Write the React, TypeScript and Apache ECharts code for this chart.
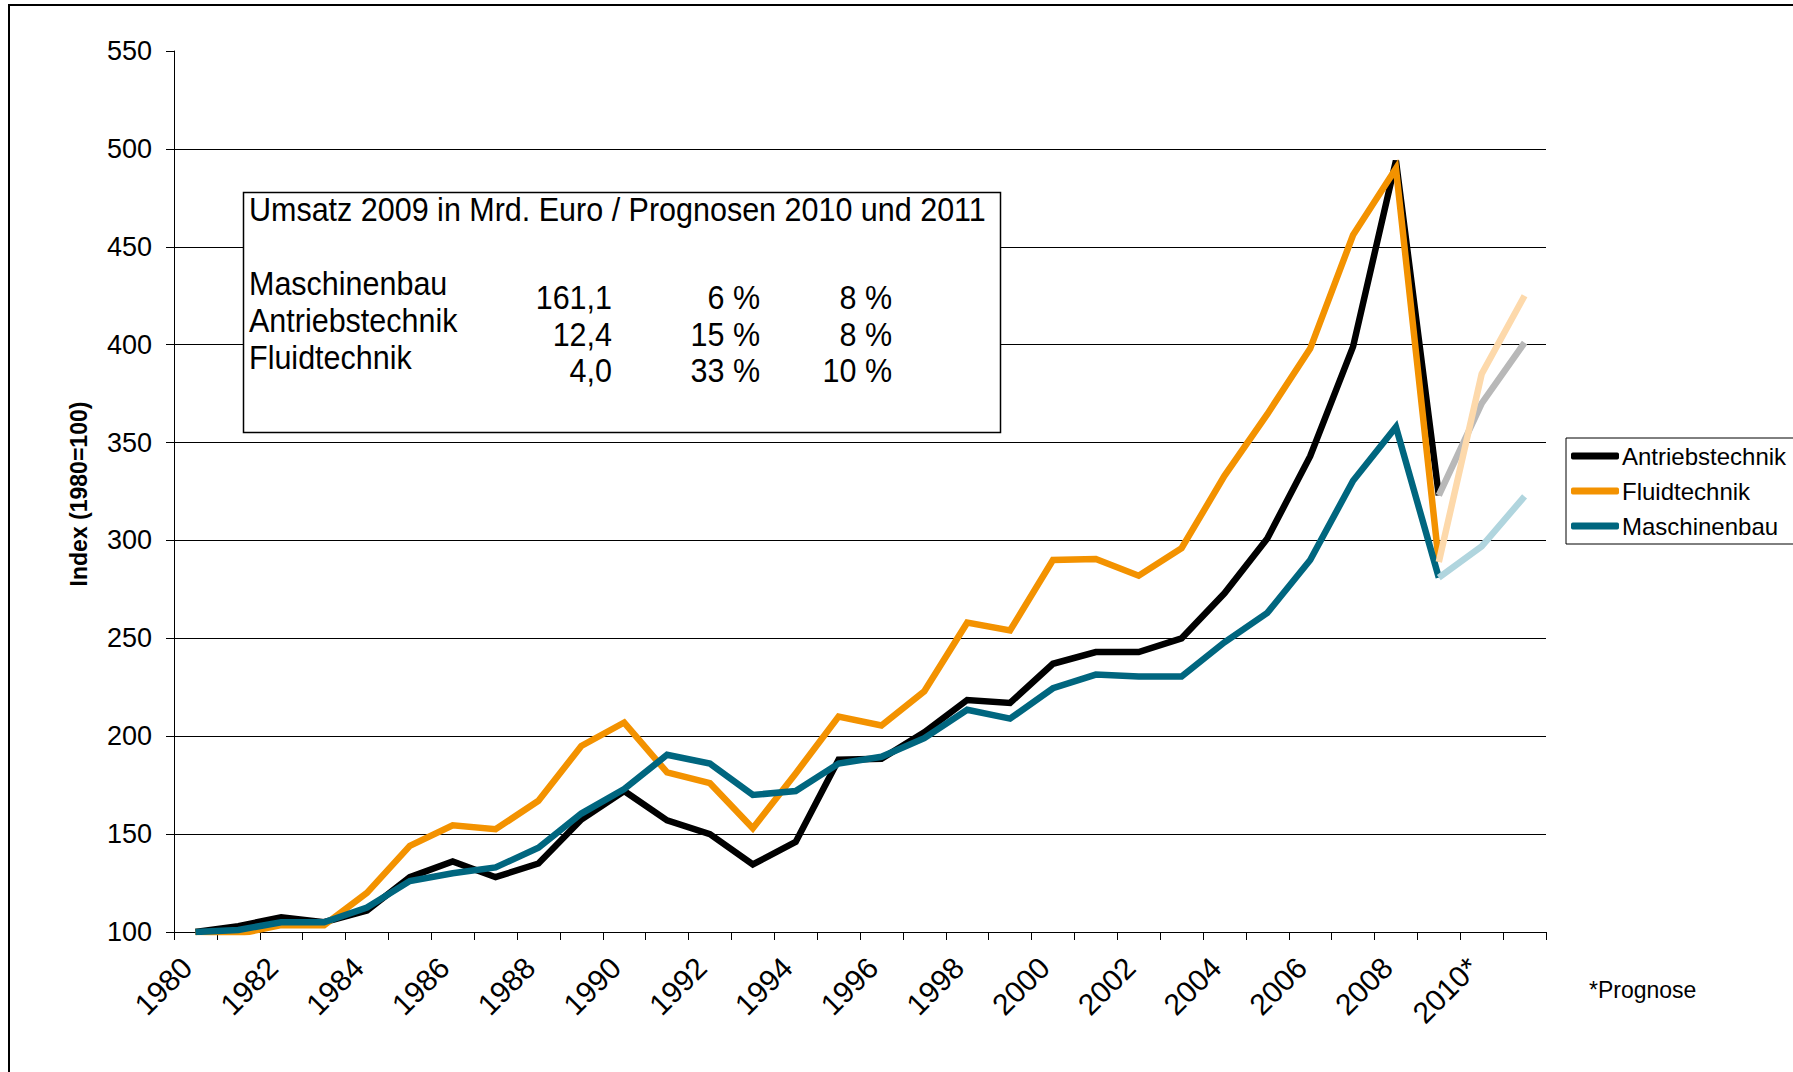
import React, { useEffect, useRef } from "react";
import * as echarts from "echarts";

const FONT = "'Liberation Sans', Arial, Helvetica, sans-serif";

const years = [
  "1980", "1981", "1982", "1983", "1984", "1985", "1986", "1987", "1988", "1989",
  "1990", "1991", "1992", "1993", "1994", "1995", "1996", "1997", "1998", "1999",
  "2000", "2001", "2002", "2003", "2004", "2005", "2006", "2007", "2008", "2009",
  "2010*", "2011",
];

const antriebstechnik = [100, 103, 107.5, 105, 111, 128, 136, 128, 135, 157.5, 172, 157, 150, 134.5, 146, 188, 188.5, 202, 218.5, 217, 237, 243, 243, 250, 273, 301, 343, 399, 494, 323];
const fluidtechnik = [100, 99, 103.5, 103.5, 120, 144, 154.5, 152.5, 167, 195, 207, 181.5, 176, 153, 181, 210, 205.5, 223, 258, 254, 290, 290.5, 282, 296, 333, 364.5, 398, 456, 490, 289];
const maschinenbau = [100, 101, 105, 105, 112.5, 126, 130, 133, 143, 160.5, 173, 190.5, 186, 170, 172, 186, 189.5, 199, 213.5, 209, 224.5, 231.5, 230.5, 230.5, 248, 263, 290, 330.5, 358, 281];

// Prognose 2009 -> 2010 -> 2011
const antriebPrognose = [323, 370, 401];
const fluidPrognose = [289, 385, 425];
const maschPrognose = [281, 297, 322.5];

const yTicks = [100, 150, 200, 250, 300, 350, 400, 450, 500, 550];

const boxTitle = "Umsatz 2009 in Mrd. Euro / Prognosen 2010 und 2011";
const boxRows = ["Maschinenbau", "Antriebstechnik", "Fluidtechnik"];
const umsatz2009 = ["161,1", "12,4", "4,0"];
const prognose2010 = ["6 %", "15 %", "33 %"];
const prognose2011 = ["8 %", "8 %", "10 %"];

const COLORS = {
  antrieb: "#000000",
  fluid: "#f39200",
  masch: "#00667f",
  antriebF: "#b8b8b8",
  fluidF: "#fdd9ab",
  maschF: "#b0d5de",
};

function padMain(vals: number[]) {
  const out: (number | null)[] = years.map(() => null);
  vals.forEach((v, i) => (out[i] = v));
  return out;
}
function padForecast(vals: number[]) {
  const out: (number | null)[] = years.map(() => null);
  const start = years.length - vals.length;
  vals.forEach((v, i) => (out[start + i] = v));
  return out;
}

export default function App() {
  const ref = useRef<HTMLDivElement>(null);

  useEffect(() => {
    if (!ref.current) return;
    const chart = echarts.init(ref.current, undefined, { renderer: "svg" });

    const lineSeries = (name: string, data: (number | null)[], color: string, z: number) => ({
      name,
      type: "line",
      data,
      symbol: "none",
      connectNulls: false,
      z,
      lineStyle: { color, width: 6.5, join: "miter", cap: "butt" },
      itemStyle: { color },
      emphasis: { disabled: true },
    });

    const gridColors = yTicks.map((v, i) => (i === yTicks.length - 1 ? "rgba(0,0,0,0)" : "#000"));

    const boxFont = `30.5px ${FONT}`;
    const SY = 1.08;
    const graphics: any[] = [];
    graphics.push({
      type: "rect",
      shape: { x: 243.5, y: 192.5, width: 757, height: 240 },
      style: { fill: "#fff", stroke: "#000", lineWidth: 1.5 },
      z: 10,
    });
    graphics.push({
      type: "text",
      x: 249,
      y: 210,
      scaleY: SY,
      z: 11,
      style: { text: boxTitle, font: boxFont, fill: "#000", textAlign: "left", textVerticalAlign: "middle" },
    });
    boxRows.forEach((r, i) => {
      graphics.push({
        type: "text",
        x: 249,
        y: 284 + i * 37,
        scaleY: SY,
        z: 11,
        style: { text: r, font: boxFont, fill: "#000", textAlign: "left", textVerticalAlign: "middle" },
      });
      const cols = [umsatz2009[i], prognose2010[i], prognose2011[i]];
      const rights = [612, 760, 892];
      cols.forEach((c, j) => {
        graphics.push({
          type: "text",
          x: rights[j],
          y: 298 + i * 36.5,
          scaleY: SY,
          z: 11,
          style: { text: c, font: boxFont, fill: "#000", textAlign: "right", textVerticalAlign: "middle" },
        });
      });
    });
    graphics.push({
      type: "text",
      x: 79,
      y: 494,
      rotation: Math.PI / 2,
      z: 11,
      style: { text: "Index (1980=100)", font: `bold 23px ${FONT}`, fill: "#000", textAlign: "center", textVerticalAlign: "middle" },
    });
    graphics.push({
      type: "text",
      x: 1589,
      y: 990,
      z: 11,
      style: { text: "*Prognose", font: `23px ${FONT}`, fill: "#000", textAlign: "left", textVerticalAlign: "middle" },
    });

    chart.setOption({
      animation: false,
      backgroundColor: "transparent",
      textStyle: { fontFamily: FONT },
      grid: { left: 174, right: 247, top: 51, bottom: 140, containLabel: false },
      legend: {
        data: ["Antriebstechnik", "Fluidtechnik", "Maschinenbau"],
        orient: "vertical",
        left: 1566,
        top: 438,
        icon: "roundRect",
        itemWidth: 48,
        itemHeight: 7,
        itemGap: 11,
        padding: [6, 8, 6, 5],
        backgroundColor: "#fff",
        borderColor: "#000",
        borderWidth: 1,
        borderRadius: 0,
        selectedMode: false,
        textStyle: { fontSize: 24, color: "#000", fontFamily: FONT, padding: [0, 0, 0, -2], lineHeight: 24 },
      },
      xAxis: {
        type: "category",
        data: years,
        boundaryGap: true,
        axisLine: { show: true, lineStyle: { color: "#000", width: 1 } },
        axisTick: { show: true, interval: 0, length: 8, lineStyle: { color: "#000", width: 1 } },
        axisLabel: {
          interval: 1,
          rotate: 45,
          fontSize: 30,
          color: "#000",
          margin: 22,
          padding: [0, 12, 0, 0],
          fontFamily: FONT,
        },
        splitLine: { show: false },
      },
      yAxis: {
        type: "value",
        min: 100,
        max: 550,
        interval: 50,
        axisLine: { show: true, lineStyle: { color: "#000", width: 1 } },
        axisTick: { show: true, length: 8, lineStyle: { color: "#000", width: 1 } },
        axisLabel: { fontSize: 27, color: "#000", margin: 22, fontFamily: FONT },
        splitLine: { show: true, lineStyle: { color: gridColors, width: 1 } },
      },
      series: [
        lineSeries("Antriebstechnik", padMain(antriebstechnik), COLORS.antrieb, 2),
        lineSeries("Fluidtechnik", padMain(fluidtechnik), COLORS.fluid, 3),
        lineSeries("Maschinenbau", padMain(maschinenbau), COLORS.masch, 4),
        lineSeries("Antriebstechnik Prognose", padForecast(antriebPrognose), COLORS.antriebF, 5),
        lineSeries("Fluidtechnik Prognose", padForecast(fluidPrognose), COLORS.fluidF, 5),
        lineSeries("Maschinenbau Prognose", padForecast(maschPrognose), COLORS.maschF, 5),
      ],
      graphic: graphics,
    });

    return () => chart.dispose();
  }, []);

  return (
    <div style={{ position: "fixed", left: 0, top: 0, width: 1793, height: 1072, overflow: "hidden", background: "#fff" }}>
      <div
        style={{
          position: "absolute",
          left: 8,
          top: 4,
          width: 2000,
          height: 1300,
          border: "2px solid #000",
          boxSizing: "border-box",
        }}
      />
      <div ref={ref} style={{ position: "absolute", left: 0, top: 0, width: 1793, height: 1072 }} />
    </div>
  );
}
